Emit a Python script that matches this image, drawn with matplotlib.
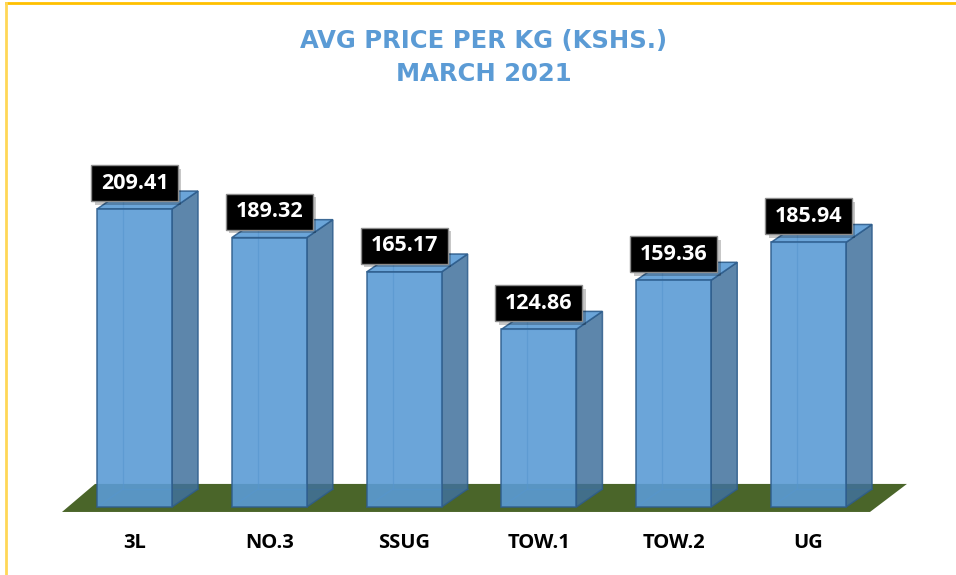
import matplotlib.pyplot as plt
import matplotlib.patheffects as pe
from matplotlib.patches import Polygon, Rectangle
from matplotlib.lines import Line2D

# data
categories = ['3L', 'NO.3', 'SSUG', 'TOW.1', 'TOW.2', 'UG']
prices = [209.41, 189.32, 165.17, 124.86, 159.36, 185.94]
title = 'AVG PRICE PER KG (KSHS.)\nMARCH 2021'

# look
front_col = '#5b9bd5'
side_col = '#41719c'
edge_col = '#2e5d8c'
floor_col = '#4a6529'
w = 0.556          # bar width (category units)
dx, dy = 0.193, 12.6   # 3d depth offset

fig = plt.figure(figsize=(9.56, 5.75), dpi=100)
ax = fig.add_axes([0, 0, 1, 1])
ax.set_xlim(-0.998, 6.094)
ax.set_ylim(-47.8, 356.3)
ax.axis('off')

# floor
n = len(categories)
floor = Polygon([(-0.538, -3.5), (n - 1 + 0.456, -3.5),
                 (n - 1 + 0.73, 16.2), (-0.293, 16.2)],
                closed=True, facecolor=floor_col, edgecolor='none', zorder=1)
ax.add_patch(floor)

for i, v in enumerate(prices):
    x0, x1 = i - w / 2, i + w / 2
    # hidden back edges, seen through the glass
    for xs, ys in [([x0 + dx, x0 + dx], [dy, v + dy]),
                   ([x0 + dx, x1 + dx], [dy, dy]),
                   ([x0, x0 + dx], [0, dy])]:
        ax.plot(xs, ys, color=edge_col, lw=0.9, alpha=0.6, zorder=2)
    side = Polygon([(x1, 0), (x1 + dx, dy), (x1 + dx, v + dy), (x1, v)],
                   closed=True, facecolor=side_col, alpha=0.85,
                   edgecolor=edge_col, lw=1.1, zorder=3)
    top = Polygon([(x0, v), (x1, v), (x1 + dx, v + dy), (x0 + dx, v + dy)],
                  closed=True, facecolor=front_col, alpha=0.9,
                  edgecolor=edge_col, lw=1.1, zorder=3)
    front = Rectangle((x0, 0), w, v, facecolor=front_col, alpha=0.9,
                      edgecolor=edge_col, lw=1.1, zorder=4)
    for p in (side, top, front):
        ax.add_patch(p)

    # value label box
    bw, bh = 0.645, 25.3
    box = Rectangle((i - bw / 2, v + 5.6), bw, bh, facecolor='black',
                    edgecolor='#8c8c8c', lw=1.0, zorder=6)
    box.set_path_effects([pe.SimplePatchShadow(offset=(2.5, -2.5), alpha=0.22),
                          pe.Normal()])
    ax.add_patch(box)
    ax.text(i, v + 5.6 + bh / 2, f'{v:.2f}', color='white', ha='center',
            va='center', fontsize=15.5, fontweight='bold', family='Open Sans',
            zorder=7)

    ax.text(i, -25.3, categories[i], ha='center', va='center', fontsize=14.5,
            fontweight='bold', family='Open Sans', color='black')

fig.text(0.506, 0.9, title, ha='center', va='center', color='#5b9bd5',
         fontsize=17.5, fontweight='bold', family='DejaVu Sans', linespacing=1.45)

# yellow frame (top and left)
fig.add_artist(Line2D([5.5 / 956, 1], [1 - 2.5 / 575, 1 - 2.5 / 575],
                      transform=fig.transFigure, color='#ffc000', lw=2))
fig.add_artist(Line2D([5.5 / 956, 5.5 / 956], [0, 1 - 2.5 / 575],
                      transform=fig.transFigure, color='#ffd757', lw=2))

fig.savefig('out.png', dpi=100)
